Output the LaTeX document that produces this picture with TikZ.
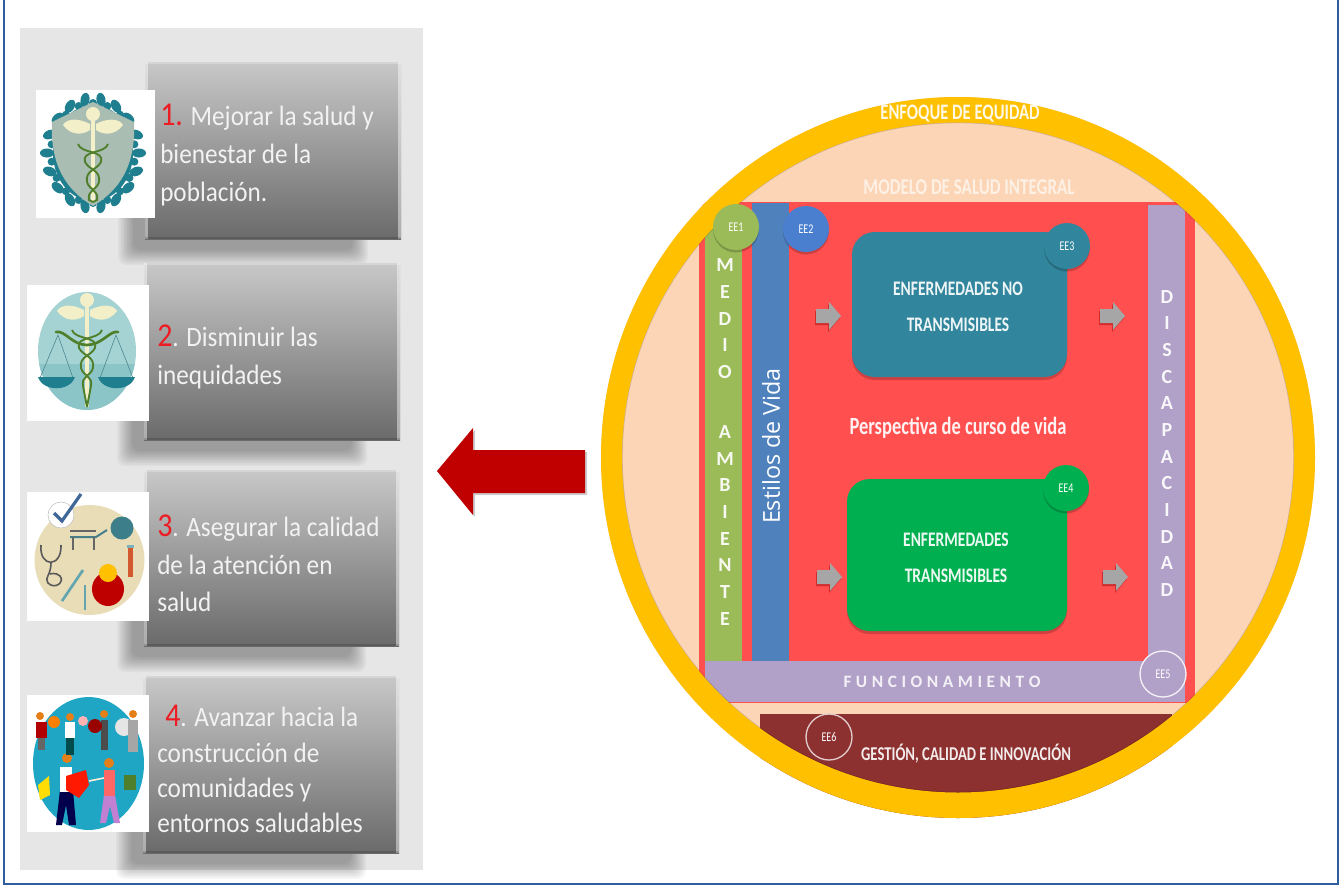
\documentclass[tikz,border=0pt]{standalone}
\usepackage{fontspec}
\setmainfont{Carlito}
\newfontfamily\narrowf[FakeStretch=0.75]{Carlito}
\newfontfamily\goalf[FakeStretch=0.9]{Carlito}
\newfontfamily\openf{Open Sans}
\definecolor{frameblue}{HTML}{2F5E9E}
\definecolor{panelgray}{HTML}{E6E6E6}
\definecolor{peach}{HTML}{FBD5B5}
\definecolor{ringyellow}{HTML}{FFC000}
\definecolor{redbg}{HTML}{FF4F4F}
\definecolor{mgreen}{HTML}{9BBB59}
\definecolor{mblue}{HTML}{4F81BD}
\definecolor{eetwo}{HTML}{4A7FD0}
\definecolor{mpurple}{HTML}{B1A0C7}
\definecolor{mteal}{HTML}{31859C}
\definecolor{mgreenb}{HTML}{00B050}
\definecolor{maroon}{HTML}{8C3030}
\definecolor{darkred}{HTML}{C00000}
\definecolor{arrowgray}{HTML}{A6A6A6}
\definecolor{boxtop}{HTML}{C8C8C8}
\definecolor{boxbot}{HTML}{6A6A6A}
\definecolor{iconteal}{HTML}{1F7F8F}
\definecolor{shieldgray}{HTML}{A9BDB2}
\definecolor{ovalteal}{HTML}{A5D3D3}
\definecolor{ovaldark}{HTML}{8CC5C8}
\definecolor{beige}{HTML}{E9DDB8}
\definecolor{circleblue}{HTML}{1FA6C4}
\definecolor{snakegreen}{HTML}{4F7F2A}
\definecolor{cream}{HTML}{F3EFC8}
\definecolor{redtxt}{HTML}{ED1C24}
\definecolor{boxtxt}{HTML}{F2F2F2}
\tikzset{
  x=0.75pt,y=-0.75pt,
  goalbox/.style={draw=none,top color=boxtop,bottom color=boxbot},
  goaltext/.style={anchor=north west,inner sep=0pt,text=boxtxt,align=left},
  eecircle/.style={circle,minimum size=34.5pt,inner sep=0pt,text=white,font=\narrowf\fontsize{10}{11}\selectfont},
  caps/.style={text=white,opacity=0.92,align=center,font=\narrowf\fontsize{15.5}{27}\selectfont\bfseries},
  stack/.style={text=white,opacity=0.92,align=center,inner sep=0pt,anchor=north,font=\fontsize{15}{20}\selectfont\bfseries},
  smallarrow/.style={fill=arrowgray},
}
\newcommand{\numfont}{\fontsize{25}{27}\selectfont}
\newcommand{\softshadow}[4]{%
  \foreach \d in {0,1.5,...,15}{
    \fill[black,opacity=0.032,rounded corners=6pt] (#1+\d,#2+\d) rectangle (#3-\d,#4-\d);
  }
}
\newcommand{\goalboxdraw}[5]{%
  \softshadow{#2-27}{#3+28}{#4-33}{#5+26}
  \path[goalbox] (#2,#3) rectangle (#4,#5);
  \fill[white,opacity=0.45] (#2,#3) rectangle (#2+3,#5);
  \fill[white,opacity=0.45] (#4-3,#3) rectangle (#4,#5);
  \fill[white,opacity=0.25] (#2,#3) rectangle (#4,#3+2);
  \fill[black,opacity=0.15] (#2,#5-2) rectangle (#4,#5);
  \node[inner sep=0pt,minimum size=0pt] (#1) at ({(#2+#4)/2},{(#3+#5)/2}) {};
}
\newcommand{\caduceus}[3]{%
  \fill[cream] (#1-2,#2) rectangle (#1+2,#3);
  \fill[cream] (#1,#2+4) circle[radius=7];
  \fill[cream] (#1-3,#2+14) .. controls (#1-14,#2+8) and (#1-26,#2+8) .. (#1-30,#2+15) .. controls (#1-22,#2+26) and (#1-10,#2+25) .. (#1-3,#2+20) -- cycle;
  \fill[cream] (#1+3,#2+14) .. controls (#1+14,#2+8) and (#1+26,#2+8) .. (#1+30,#2+15) .. controls (#1+22,#2+26) and (#1+10,#2+25) .. (#1+3,#2+20) -- cycle;
  \draw[snakegreen,line width=1.4pt] (#1-15,#2+34) .. controls (#1-12,#2+44) and (#1+12,#2+40) .. (#1+8,#2+52) .. controls (#1+4,#2+60) and (#1-8,#2+60) .. (#1-6,#2+72) .. controls (#1-4,#2+80) and (#1+6,#2+80) .. (#1+4,#2+90) -- (#1,#3);
  \draw[snakegreen,line width=1.4pt] (#1+15,#2+34) .. controls (#1+12,#2+44) and (#1-12,#2+40) .. (#1-8,#2+52) .. controls (#1-4,#2+60) and (#1+8,#2+60) .. (#1+6,#2+72) .. controls (#1+4,#2+80) and (#1-6,#2+80) .. (#1-4,#2+90) -- (#1,#3);
}
\begin{document}
\begin{tikzpicture}
\useasboundingbox (0,0) rectangle (1340,886);
\fill[white] (0,0) rectangle (1340,886);
% frame
\draw[frameblue,line width=1.5pt] (3.5,-5) -- (3.5,884) -- (1338,884) -- (1338,-5);
% left panel
\fill[panelgray] (20,28) rectangle (423,870);
% goal boxes
\goalboxdraw{boxa}{145}{62}{401}{239}
\goalboxdraw{boxb}{144}{263}{400}{440}
\goalboxdraw{boxc}{144}{470}{399}{646}
\goalboxdraw{boxd}{143}{676}{399}{853}
% icon 1
\fill[white] (36,90) rectangle (155,218);
\foreach \a in {0,20,...,340}{
  \fill[iconteal,rotate around={\a:({93+46*cos(\a)},{153+54*sin(\a)})}] ({93+46*cos(\a)},{153+54*sin(\a)}) ellipse[x radius=7,y radius=4.5];
  \fill[iconteal] ({93+42*cos(\a+10)},{153+50*sin(\a+10)}) circle[radius=4];
}
\fill[iconteal] (93,153) ellipse[x radius=40,y radius=48];
\fill[shieldgray] (93,102) -- (134,122) .. controls (136,165) and (120,190) .. (93,206) .. controls (66,190) and (50,165) .. (52,122) -- cycle;
\caduceus{93}{110}{202}
% icon 2
\fill[white] (27,285) rectangle (149,421);
\fill[ovalteal] (87,351) ellipse[x radius=49,y radius=59];
\begin{scope}
  \clip (87,351) ellipse[x radius=49,y radius=59];
  \fill[ovaldark] (30,364) rectangle (145,420);
\end{scope}
\draw[iconteal!60!gray,line width=0.4pt] (58,335) -- (40,378) (58,335) -- (73,378) (116,335) -- (100,378) (116,335) -- (133,378);
\fill[iconteal] (38,377) -- (75,377) .. controls (70,392) and (43,392) .. (38,377) -- cycle;
\fill[iconteal] (98,377) -- (135,377) .. controls (130,392) and (103,392) .. (98,377) -- cycle;
\caduceus{87}{296}{407}
\draw[snakegreen,line width=2pt,line cap=round] (56,332) .. controls (65,330) and (72,345) .. (87,345) .. controls (102,345) and (110,330) .. (118,332);
% icon 3
\fill[white] (27,492) rectangle (149,621);
\fill[beige] (89.5,560) circle[radius=55];
\draw[gray!70!black,line width=1.2pt] (41,545) .. controls (39,568) and (62,568) .. (61,545);
\draw[gray!70!black,line width=1.2pt] (51,563) .. controls (51,575) and (44,578) .. (48,583) .. controls (55,590) and (65,582) .. (60,576) .. controls (56,572) and (50,574) .. (50,574);
\draw[iconteal!60!gray,line width=1.5pt] (70,537) -- (96,537) -- (107,530);
\draw[gray!80!black,line width=0.8pt] (70,531) -- (96,531) (73,537) -- (73,550) (94,537) -- (94,550);
\fill[iconteal!70!gray] (122,528) circle[radius=11.5];
\fill[brown!70!red] (128,547) rectangle (133,577);
\fill[iconteal!60!white] (127,545) rectangle (134,548);
\fill[red!75!black] (108,589) ellipse[x radius=16,y radius=17];
\fill[ringyellow] (108,573) circle[radius=9];
\draw[iconteal!70!white,line width=2pt] (62,601) -- (83,570);
\draw[iconteal!70!white,line width=1.5pt] (85,585) -- (85,610);
\fill[white,draw=gray!50,line width=0.4pt] (61,515) circle[radius=13];
\draw[mblue!80!black,line width=2.4pt] (54,513) -- (62,521) -- (81,494);
% icon 4
\fill[white] (27,695) rectangle (149,832);
\fill[circleblue] (88.5,763.5) ellipse[x radius=55.5,y radius=66.5];
\fill[white!80!gray] (124,727) circle[radius=9];
\fill[yellow!80!orange] (38,785) -- (49,776) -- (50,795) -- (40,800) -- cycle;
\fill[snakegreen] (124,775) rectangle (136,790);
% front man
\fill[blue!30!black] (60,790) -- (73,790) -- (76,825) -- (69,825) -- (66,805) -- (62,825) -- (56,825) -- cycle;
\fill[white] (60,767) rectangle (72,792);
\fill[orange!60!brown] (67,758) circle[radius=5];
\fill[red!80!orange] (66,776) -- (86,770) -- (89,785) -- (79,798) -- (66,790) -- cycle;
% front woman
\fill[mpurple!80!magenta] (104,795) -- (115,795) -- (120,823) -- (114,823) -- (110,806) -- (106,823) -- (100,823) -- cycle;
\fill[red!60!white] (104,770) rectangle (115,796);
\fill[orange!60!brown] (109,763) circle[radius=5];
\draw[white!85!orange,line width=1.2pt] (89,781) -- (104,778);
% back row
\fill[orange!60!brown] (40,716) circle[radius=4] (70,717) circle[radius=4] (104,714) circle[radius=4] (133,714) circle[radius=4];
\fill[white] (65,722) rectangle (75,738);
\fill[teal!60!black] (66,738) rectangle (74,755);
\fill[black!70] (101,720) rectangle (108,750);
\fill[red!70!black] (36,722) rectangle (47,738);
\fill[black!60] (38,738) rectangle (45,750);
\fill[gray!70] (128,720) rectangle (138,752);
\fill[orange] (54,722) circle[radius=6];
\fill[red!60!black] (95,726) circle[radius=7];
\fill[red!30!white] (83,721) circle[radius=5];
% goal texts
\node[goaltext,font=\goalf\fontsize{21}{28.5}\selectfont] (ta) at (160,104) {\textcolor{redtxt}{\numfont 1.} Mejorar la salud y\\bienestar de la\\población.};
\node[goaltext,font=\goalf\fontsize{21}{28.5}\selectfont] (tb) at (157,325) {\textcolor{redtxt}{\numfont 2}. Disminuir las\\inequidades};
\node[goaltext,font=\goalf\fontsize{21}{28}\selectfont] (tc) at (157,515) {\textcolor{redtxt}{\numfont 3}. Asegurar la calidad\\de la atención en\\salud};
\node[goaltext,font=\goalf\fontsize{21}{26.5}\selectfont] (td) at (157,705) {\hspace*{6pt}\textcolor{redtxt}{\numfont 4}. Avanzar hacia la\\construcción de\\comunidades y\\entornos saludables};
% big arrow
\fill[black,opacity=0.2] (439,473) -- (475,430) -- (475,452) -- (587,452) -- (587,495) -- (475,495) -- (475,517) -- cycle;
\fill[darkred] (437,471) -- (473,428) -- (473,450) -- (585,450) -- (585,493) -- (473,493) -- (473,515) -- cycle;
% circle contents
\begin{scope}
  \clip (958,457.5) ellipse[x radius=357,y radius=360.5];
  \fill[peach] (590,90) rectangle (1330,830);
  \fill[redbg] (699,202) rectangle (1195,703);
  \fill[maroon] (760,714) rectangle (1172,830);
  \fill[mgreen] (705,227) rectangle (742,661);
  \fill[mblue] (752,203) rectangle (789,661);
  \fill[mpurple] (1148,205) rectangle (1185,661);
  \fill[mpurple] (705,661) rectangle (1185,702);
\end{scope}
% ring
\draw[black,opacity=0.18,line width=1pt] (958,457.5) ellipse[x radius=336,y radius=335];
\fill[ringyellow,even odd rule] (958,457.5) ellipse[x radius=357,y radius=360.5] (958,457.5) ellipse[x radius=336,y radius=335];
% rounded boxes
\fill[black,opacity=0.18,rounded corners=17pt] (852,235) rectangle (1067,380);
\fill[mteal,rounded corners=17pt] (852,232) rectangle (1067,377);
\fill[black,opacity=0.18,rounded corners=17pt] (847,482) rectangle (1067,634);
\fill[mgreenb,rounded corners=17pt] (847,479) rectangle (1067,631);
% small arrows
\foreach \ax/\ay in {828/316,1112/316,829/577,1115/577}{
  \fill[black!40!red,opacity=0.45] (\ax-13,\ay-5) -- ++(13,0) -- ++(0,-7) -- ++(12,14) -- ++(-12,14) -- ++(0,-7) -- ++(-13,0) -- cycle;
  \fill[smallarrow] (\ax-12,\ay-7) -- ++(13,0) -- ++(0,-7) -- ++(12,14) -- ++(-12,14) -- ++(0,-7) -- ++(-13,0) -- cycle;
}
% texts in shapes
\node[text=white,opacity=0.9,inner sep=0pt,font=\narrowf\fontsize{16.6}{18}\selectfont\bfseries] (equity) at (960,114) {ENFOQUE DE EQUIDAD};
\node[text=white,opacity=0.65,inner sep=0pt,font=\narrowf\fontsize{17}{18}\selectfont\bfseries] (model) at (969,187) {MODELO DE SALUD INTEGRAL};
\node[caps] (ent) at (958,307) {ENFERMEDADES NO\\TRANSMISIBLES};
\node[caps] (et) at (956,557.5) {ENFERMEDADES\\TRANSMISIBLES};
\node[text=white,opacity=0.92,inner sep=0pt,font=\narrowf\fontsize{18.5}{20}\selectfont\bfseries] (pers) at (958,428) {Perspectiva de curso de vida};
\node[text=white,inner sep=0pt,rotate=90,font=\openf\fontsize{17.5}{20}\selectfont] (vida) at (771,446) {Estilos de Vida};
\node[text=white,opacity=0.85,inner sep=0pt,font=\fontsize{13}{15}\selectfont\bfseries] (func) at (942,682) {F\hspace{3.4pt}U\hspace{3.4pt}N\hspace{3.4pt}C\hspace{3.4pt}I\hspace{3.4pt}O\hspace{3.4pt}N\hspace{3.4pt}A\hspace{3.4pt}M\hspace{3.4pt}I\hspace{3.4pt}E\hspace{3.4pt}N\hspace{3.4pt}T\hspace{3.4pt}O};
\node[text=white,opacity=0.9,inner sep=0pt,font=\narrowf\fontsize{14.7}{16}\selectfont\bfseries] (gest) at (966,754) {GESTIÓN, CALIDAD E INNOVACIÓN};
\node[stack] (medio) at (725,258.5) {M\\E\\D\\I\\O\\[25pt]A\\M\\B\\I\\E\\N\\T\\E};
\node[stack] (disc) at (1167,290) {D\\I\\S\\C\\A\\P\\A\\C\\I\\D\\A\\D};
% EE circles
\fill[black,opacity=0.2] (736,229.5) circle[radius=23];
\node[eecircle,fill=mgreen] (ee1) at (736,227) {EE1};
\fill[black,opacity=0.2] (806,231.5) circle[radius=23];
\node[eecircle,fill=eetwo] (ee2) at (806,229) {EE2};
\fill[black,opacity=0.2] (1067,248.5) circle[radius=23];
\node[eecircle,fill=mteal] (ee3) at (1067,246) {EE3};
\fill[black,opacity=0.2] (1066,490.5) circle[radius=23];
\node[eecircle,fill=mgreenb] (ee4) at (1066,488) {EE4};
\node[eecircle,fill=mpurple,draw=white!85!mpurple,line width=1pt] (ee5) at (1163,674) {EE5};
\node[eecircle,fill=maroon,draw=white!75!maroon,line width=1pt] (ee6) at (829,737) {EE6};
\end{tikzpicture}
\end{document}
